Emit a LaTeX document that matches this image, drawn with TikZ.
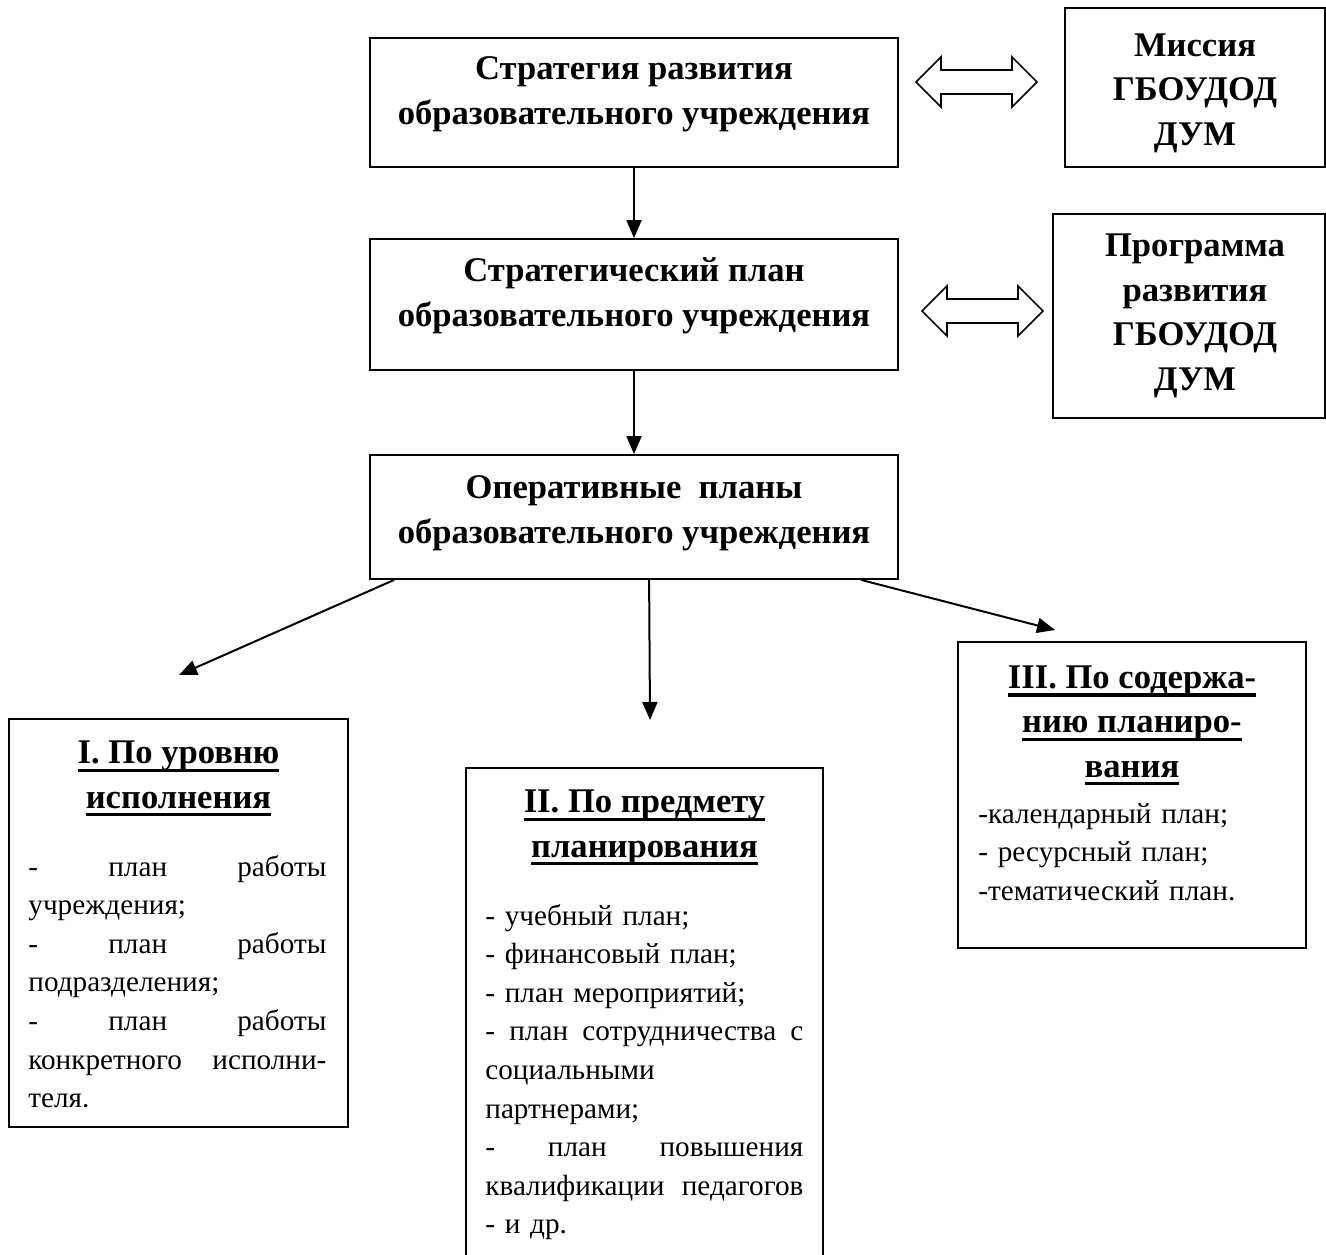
\documentclass[tikz,border=0pt]{standalone}
\usepackage{fontspec}
\setmainfont{Liberation Serif}
\usetikzlibrary{positioning, arrows.meta, calc}

\newcommand{\ulin}[1]{\setbox0=\hbox{#1}\rlap{\rule[-4.2pt]{\wd0}{1.7pt}}\box0}

\begin{document}
\begin{tikzpicture}[
    x=0.5pt, y=-0.5pt,
    frame/.style={rectangle, draw=black, line width=0.9pt, inner sep=0pt},
    head/.style={font=\bfseries\fontsize{17.3}{22.2}\selectfont, align=center, inner sep=0pt, anchor=base},
    body/.style={font=\fontsize{14.6}{19.3}\selectfont, align=left, inner sep=0pt, anchor=base west},
    arr/.style={-{Triangle[length=9pt, width=7.5pt]}, line width=1pt},
    blockarr/.style={draw=black, line width=0.8pt, fill=white, line join=miter}
]
    \useasboundingbox (0,0) rectangle (1326,1254);
    \clip (0,0) rectangle (1326,1254);

    \node[frame, minimum width=264pt, minimum height=64.5pt] (strat) at (634,102.5) {};
    \node[frame, minimum width=264pt, minimum height=65.5pt] (plan) at (634,304.5) {};
    \node[frame, minimum width=264pt, minimum height=62pt] (oper) at (634,517) {};
    \node[frame, minimum width=130pt, minimum height=79.5pt] (mission) at (1195,87.5) {};
    \node[frame, minimum width=136pt, minimum height=102pt] (program) at (1189,316) {};

    % base of a multi-line head is its last line
    \node[head] at (634,124) {Стратегия развития\\образовательного учреждения};
    \node[head] at (634,326) {Стратегический план\\образовательного учреждения};
    \node[head] at (634,543) {Оперативные\ \ планы\\образовательного учреждения};
    \node[head] at (1195,145) {Миссия\\ГБОУДОД\\ДУМ};
    \node[head] at (1195,390) {Программа\\развития\\ГБОУДОД\\ДУМ};

    \coordinate (dbl1) at (976.5,82);
    \coordinate (dbl2) at (982.5,311);
    \draw[blockarr] (dbl1) ++(-60.5,0) -- ++(25,-25) -- ++(0,13) -- ++(71,0) -- ++(0,-13) -- ++(25,25)
        -- ++(-25,25) -- ++(0,-13) -- ++(-71,0) -- ++(0,13) -- cycle;
    \draw[blockarr] (dbl2) ++(-60.5,0) -- ++(25,-25) -- ++(0,13) -- ++(71,0) -- ++(0,-13) -- ++(25,25)
        -- ++(-25,25) -- ++(0,-13) -- ++(-71,0) -- ++(0,13) -- cycle;

    \draw[arr] (strat.south) -- (plan.north);
    \draw[arr] (plan.south) -- (oper.north);

    \node[frame, minimum width=169.5pt, minimum height=204pt] (level) at (178.5,923) {};
    \node[frame, minimum width=178.5pt, minimum height=247pt] (subject) at (644.5,1015) {};
    \node[frame, minimum width=174pt, minimum height=153pt] (content) at (1132,795) {};

    \coordinate (tipI) at (179,675);
    \coordinate (tipII) at (650,720);
    \coordinate (tipIII) at (1055,630);
    \draw[arr] ($(oper.south west)+(25,0)$) -- (tipI);
    \draw[arr] ($(oper.south west)+(280,0)$) -- (tipII);
    \draw[arr] ($(oper.south west)+(492,0)$) -- (tipIII);

    \node[head] at (178.5,808) {\ulin{I. По уровню}\\\ulin{исполнения}};
    \node[body, text width=149pt] at (28,876) {-~\hfill план~\hfill работы\\
        учреждения;\\
        -~\hfill план~\hfill работы\\
        подразделения;\\
        -~\hfill план~\hfill работы\\
        конкретного~\hfill исполни-\\
        теля.};

    \node[head] at (644.5,857) {\ulin{II. По предмету}\\\ulin{планирования}};
    \node[body, text width=159pt] at (485,925) {- учебный план;\\
        - финансовый план;\\
        - план мероприятий;\\
        -~\hfill план~\hfill сотрудничества~\hfill с\\
        социальными\\
        партнерами;\\
        -~\hfill план~\hfill повышения\\
        квалификации~\hfill педагогов\\
        - и др.};

    \node[head] at (1132,777) {\ulin{III. По содержа-}\\\ulin{нию планиро-}\\\ulin{вания}};
    \node[body, text width=155pt] at (978,823) {-календарный план;\\- ресурсный план;\\-тематический план.};
\end{tikzpicture}
\end{document}
